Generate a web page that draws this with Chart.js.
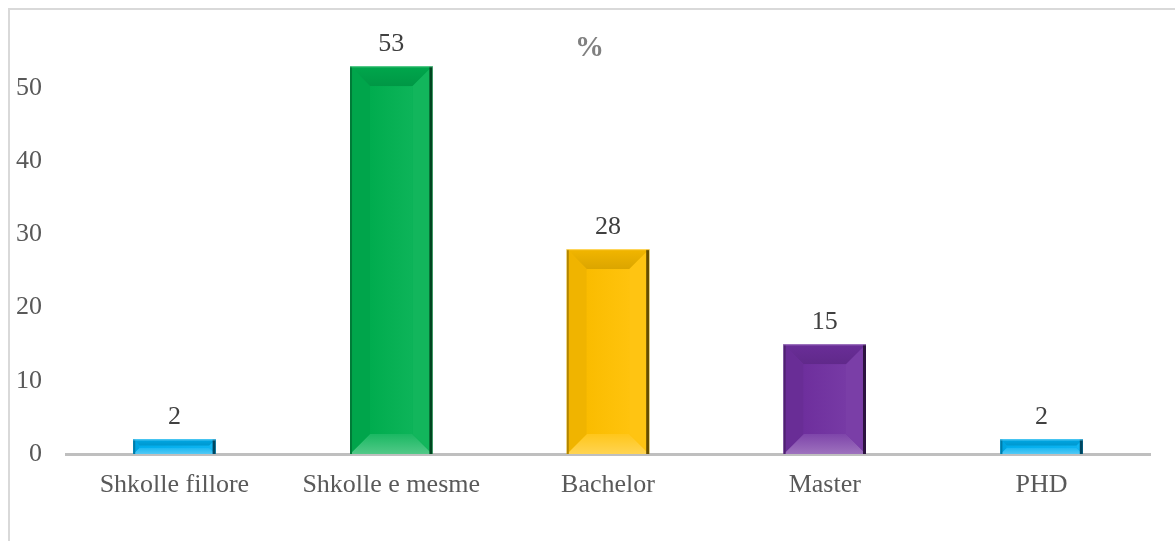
<!DOCTYPE html>
<html>
<head>
<meta charset="utf-8">
<script src="https://cdn.jsdelivr.net/npm/chart.js@4.4.1/dist/chart.umd.min.js"></script>
<style>
  html, body { margin: 0; padding: 0; background: #fff; overflow: hidden; }
  #frame { position: absolute; left: 8px; top: 8px; width: 1300px; height: 700px;
           border-left: 2px solid #d9d9d9; border-top: 2px solid #d9d9d9; }
  #wrap { position: absolute; left: 0; top: 0; width: 1175px; height: 541px; }
</style>
</head>
<body>
<div id="frame"></div>
<div id="wrap"><canvas id="eduChart"></canvas></div>
<script>
// data
const categories = ['Shkolle fillore', 'Shkolle e mesme', 'Bachelor', 'Master', 'PHD'];
const percentValues = [2, 53, 28, 15, 2];
const barColors = ['#00b0f0', '#00b050', '#ffc000', '#7030a0', '#00b0f0'];
const yTicks = [0, 10, 20, 30, 40, 50];
const chartTitle = '%';

const serif = '"Liberation Serif", "Times New Roman", serif';

function shade(hex, f) {
    // f<0 darken, f>0 lighten
    let r = parseInt(hex.slice(1, 3), 16), g = parseInt(hex.slice(3, 5), 16), b = parseInt(hex.slice(5, 7), 16);
    const t = f < 0 ? 0 : 255, p = Math.abs(f);
    r = Math.round(r + (t - r) * p); g = Math.round(g + (t - g) * p); b = Math.round(b + (t - b) * p);
    return 'rgb(' + r + ',' + g + ',' + b + ')';
}

// bevel look drawn on top of each bar, from the bar elements
const bevelPlugin = {
    id: 'bevel',
    afterDatasetsDraw(chart) {
        const ctx = chart.ctx;
        const meta = chart.getDatasetMeta(0);
        meta.data.forEach((bar, i) => {
            const c = barColors[i];
            const l = bar.x - bar.width / 2, r = bar.x + bar.width / 2;
            const t = Math.min(bar.y, bar.base), b = Math.max(bar.y, bar.base);
            const h = b - t;
            const d = Math.min(20, h / 2 - 1, bar.width / 2);
            ctx.save();
            const poly = (pts, col) => {
                ctx.beginPath();
                ctx.moveTo(pts[0][0], pts[0][1]);
                for (let k = 1; k < pts.length; k++) ctx.lineTo(pts[k][0], pts[k][1]);
                ctx.closePath();
                ctx.fillStyle = col;
                ctx.fill();
            };
            // top
            const gt = ctx.createLinearGradient(0, t, 0, t + d);
            gt.addColorStop(0, shade(c, -0.05));
            gt.addColorStop(1, shade(c, -0.14));
            poly([[l, t], [r, t], [r - d, t + d], [l + d, t + d]], gt);
            // bottom
            const gb = ctx.createLinearGradient(0, b - d, 0, b);
            gb.addColorStop(0, shade(c, 0.1));
            gb.addColorStop(1, shade(c, 0.32));
            poly([[l, b], [r, b], [r - d, b - d], [l + d, b - d]], gb);
            // left
            poly([[l, t], [l + d, t + d], [l + d, b - d], [l, b]], shade(c, -0.06));
            // right
            poly([[r, t], [r - d, t + d], [r - d, b - d], [r, b]], shade(c, 0.07));
            // inner face
            const g = ctx.createLinearGradient(l + d, 0, r - d, 0);
            g.addColorStop(0, shade(c, -0.02));
            g.addColorStop(1, shade(c, 0.05));
            ctx.fillStyle = g;
            ctx.fillRect(l + d, t + d, r - l - 2 * d, h - 2 * d);
            // edges
            ctx.fillStyle = shade(c, -0.6);
            ctx.fillRect(r - 3, t, 3, h);
            ctx.fillStyle = shade(c, -0.3);
            ctx.fillRect(l, t, 2, h);
            ctx.fillStyle = shade(c, 0.4);
            ctx.fillRect(l, t, r - l, 1);
            ctx.restore();
        });
    }
};

// value labels above bars and the "%" title
const labelPlugin = {
    id: 'valueLabels',
    afterDraw(chart) {
        const ctx = chart.ctx;
        ctx.save();
        ctx.font = '26px ' + serif;
        ctx.fillStyle = '#404040';
        ctx.textAlign = 'center';
        ctx.textBaseline = 'alphabetic';
        chart.getDatasetMeta(0).data.forEach((bar, i) => {
            ctx.fillText(String(percentValues[i]), bar.x, bar.y - 15);
        });
        ctx.font = 'bold 29px ' + serif;
        ctx.fillStyle = '#808080';
        ctx.textBaseline = 'middle';
        ctx.fillText(chartTitle, chart.width / 2 + 2, 49);
        ctx.restore();
    }
};

new Chart(document.getElementById('eduChart'), {
    type: 'bar',
    data: {
        labels: categories,
        datasets: [{
            data: percentValues,
            backgroundColor: barColors,
            borderWidth: 0,
            categoryPercentage: 1,
            barPercentage: 0.38
        }]
    },
    options: {
        responsive: true,
        maintainAspectRatio: false,
        animation: false,
        events: [],
        layout: { padding: { left: 0, right: 25, top: 15, bottom: 0 } },
        plugins: { legend: { display: false }, tooltip: { enabled: false } },
        scales: {
            x: {
                grid: { display: false, drawTicks: false },
                border: { display: true, color: '#bfbfbf', width: 3 },
                ticks: { color: '#595959', font: { family: serif, size: 26 }, padding: 16, maxRotation: 0 },
                afterFit(scale) {
                    scale.height = 87;
                    scale.paddingLeft = 0;
                    scale.paddingRight = 0;
                }
            },
            y: {
                min: 0,
                max: 60,
                afterBuildTicks(scale) {
                    scale.ticks = yTicks.map(v => ({ value: v }));
                },
                grid: { display: false, drawTicks: false },
                border: { display: false },
                ticks: { color: '#595959', font: { family: serif, size: 26 }, padding: 24 },
                afterFit(scale) {
                    scale.width = 66;
                    scale.paddingTop = 0;
                    scale.paddingBottom = 0;
                }
            }
        }
    },
    plugins: [bevelPlugin, labelPlugin]
});
</script>
</body>
</html>
